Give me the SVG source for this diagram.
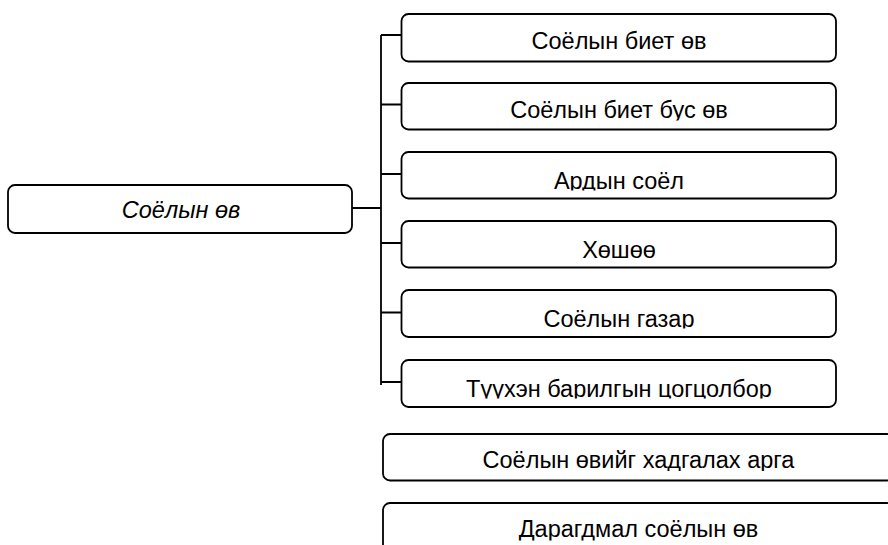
<svg xmlns="http://www.w3.org/2000/svg" width="888" height="545" viewBox="0 0 888 545">
<style>
.box{fill:#fff;stroke:#000;stroke-width:1.8}
.t{font-family:"Liberation Sans",Arial,sans-serif;font-size:23.5px;fill:#000;text-anchor:middle}
.i{font-style:italic}
.c{fill:none;stroke:#000;stroke-width:1.8}
</style>
<defs>
<clipPath id="k0"><rect x="8" y="185" width="344" height="46.5"/></clipPath>
<clipPath id="k1"><rect x="401" y="14" width="435" height="37.5"/></clipPath>
<clipPath id="k2"><rect x="401" y="83" width="435" height="37.5"/></clipPath>
<clipPath id="k3"><rect x="401" y="152" width="435" height="38.5"/></clipPath>
<clipPath id="k4"><rect x="401" y="221" width="435" height="38.5"/></clipPath>
<clipPath id="k5"><rect x="401" y="290" width="435" height="38.5"/></clipPath>
<clipPath id="k6"><rect x="401" y="360" width="435" height="38.5"/></clipPath>
<clipPath id="k7"><rect x="383" y="434" width="520" height="37"/></clipPath>
<clipPath id="k8"><rect x="383" y="503" width="520" height="37.5"/></clipPath>
</defs>
<g id="connectors">
<path class="c" d="M352,208 H381 M381,35 V385 M381,35 H401.5 M381,104.5 H401.5 M381,174 H401.5 M381,243 H401.5 M381,312.5 H401.5 M381,382 H401.5"/>
</g>
<g id="root">
<rect class="box" x="8" y="185" width="344" height="48" rx="7"/>
<text class="t i" x="181" y="218" clip-path="url(#k0)">Соёлын өв</text>
</g>
<g id="n1">
<rect class="box" x="401.5" y="14" width="434.5" height="47.5" rx="7"/>
<text class="t" x="619" y="49" clip-path="url(#k1)">Соёлын биет өв</text>
</g>
<g id="n2">
<rect class="box" x="401.5" y="83" width="434.5" height="46.5" rx="7"/>
<text class="t" x="619" y="118" clip-path="url(#k2)">Соёлын биет бус өв</text>
</g>
<g id="n3">
<rect class="box" x="401.5" y="152" width="434.5" height="46.5" rx="7"/>
<text class="t" x="619" y="188.5" clip-path="url(#k3)">Ардын соёл</text>
</g>
<g id="n4">
<rect class="box" x="401.5" y="221" width="434.5" height="46.5" rx="7"/>
<text class="t" x="619" y="257.5" clip-path="url(#k4)">Хөшөө</text>
</g>
<g id="n5">
<rect class="box" x="401.5" y="290" width="434.5" height="47" rx="7"/>
<text class="t" x="619" y="326.5" clip-path="url(#k5)">Соёлын газар</text>
</g>
<g id="n6">
<rect class="box" x="401.5" y="360" width="434.5" height="47" rx="7"/>
<text class="t" x="619" y="396.5" clip-path="url(#k6)">Түүхэн барилгын цогцолбор</text>
</g>
<g id="n7">
<rect class="box" x="383" y="434" width="511" height="46.5" rx="7"/>
<text class="t" x="638.5" y="468" clip-path="url(#k7)">Соёлын өвийг хадгалах арга</text>
</g>
<g id="n8">
<rect class="box" x="383" y="503" width="511" height="60" rx="7"/>
<text class="t" x="638.5" y="537" clip-path="url(#k8)">Дарагдмал соёлын өв</text>
</g>
</svg>
